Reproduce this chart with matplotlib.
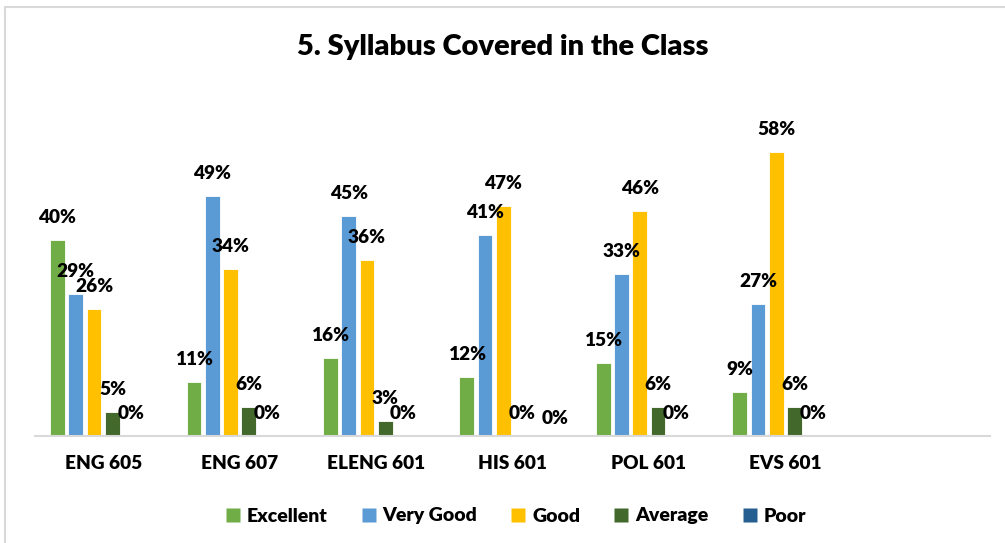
import matplotlib
matplotlib.use("Agg")
import matplotlib.pyplot as plt
from matplotlib.patches import Rectangle
from matplotlib.lines import Line2D
import numpy as np

plt.rcParams['font.family'] = ['Lato', 'DejaVu Sans']

categories = ["ENG 605", "ENG 607", "ELENG 601", "HIS 601", "POL 601", "EVS 601", ""]
series_names = ["Excellent", "Very Good", "Good", "Average", "Poor"]
excellent = [40, 11, 16, 12, 15, 9]
very_good = [29, 49, 45, 41, 33, 27]
good = [26, 34, 36, 47, 46, 58]
average = [5, 6, 3, 0, 6, 6]
poor = [0, 0, 0, 0, 0, 0]
series_values = [excellent, very_good, good, average, poor]
colors = ["#70AD47", "#5B9BD5", "#FFC000", "#43682B", "#255E91"]

# label nudges (series index, category index) -> (dx, dy) in points, as in reference
label_nudge = {(4, 3): (11, -3.6)}

W, H = 1005, 543
fig = plt.figure(figsize=(W / 100, H / 100), dpi=100)

# chart border
fig.patches.append(Rectangle((5 / W, -0.1), 1.2, (H - 7) / H + 0.1, transform=fig.transFigure,
                             fill=False, edgecolor="#D9D9D9", linewidth=1.5))

ax = fig.add_axes([35 / W, (H - 436) / H, 955 / W, (436 - 80) / H])
ax.set_xlim(0, len(categories))
ax.set_ylim(0, (436 - 80) / 4.9)

WEIGHT = "heavy"
slot = 18.3 / 136.4
bw = 14.7 / 136.4
x = np.arange(len(excellent)) + 0.5
for j, (vals, col) in enumerate(zip(series_values, colors)):
    xs = x + (j - 2.5) * slot
    ax.bar(xs, vals, width=bw, color=col, edgecolor="white", linewidth=0.6, zorder=2)
    for i, (xi, v) in enumerate(zip(xs, vals)):
        dx, dy = label_nudge.get((j, i), (0, 0))
        ax.annotate(f"{v}%", (xi, v), xytext=(dx, 12.2 + dy), textcoords="offset points",
                    ha="center", va="baseline", fontsize=13.7, fontweight=WEIGHT,
                    color="#000000", zorder=3)

for s in ["top", "right", "left"]:
    ax.spines[s].set_visible(False)
ax.spines["bottom"].set_color("#D9D9D9")
ax.spines["bottom"].set_linewidth(1.5)
ax.set_yticks([])
ax.set_xticks(np.arange(len(categories)) + 0.5)
ax.set_xticklabels(categories, fontsize=13.7, fontweight=WEIGHT)
ax.tick_params(axis="x", length=0, pad=14)

fig.text(503 / W, (H - 47) / H, "5. Syllabus Covered in the Class", ha="center", va="center",
         fontsize=21, fontweight=WEIGHT)

handles = [Line2D([], [], marker="s", markersize=10, markerfacecolor=c, markeredgecolor="none",
                  linestyle="none") for c in colors]
leg = fig.legend(handles, series_names, loc="center", bbox_to_anchor=(516 / W, (H - 516) / H),
                 ncol=5, frameon=False, prop={"size": 14, "weight": WEIGHT},
                 handlelength=0.72, handletextpad=0.36, columnspacing=1.75,
                 borderaxespad=0, borderpad=0)

fig.savefig("out.png", dpi=100)
